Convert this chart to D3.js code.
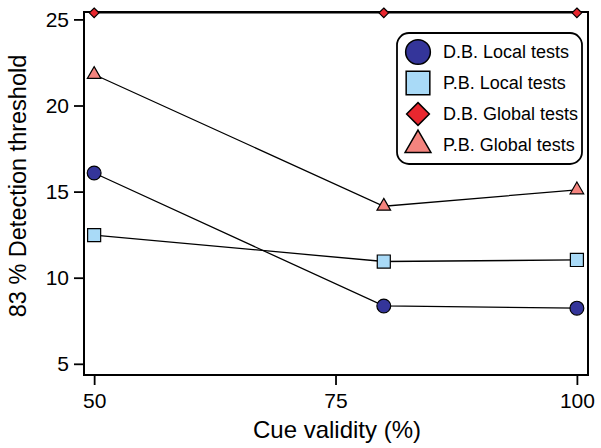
<!DOCTYPE html>
<html>
<head>
<meta charset="utf-8">
<script src="https://cdn.jsdelivr.net/npm/d3@7"></script>
<style>
  body { margin: 0; background: #fff; }
  text { font-family: "Liberation Sans", Arial, sans-serif; }
</style>
</head>
<body>
<svg id="chart" width="601" height="448"></svg>
<script>
// data
var cueValidity = [50, 80, 100];
var dbLocal  = [16.08, 8.36, 8.23];
var pbLocal  = [12.47, 10.94, 11.03];
var dbGlobal = [25.38, 25.38, 25.38];
var pbGlobal = [21.8, 14.15, 15.1];
var xTicks = [50, 75, 100];
var yTicks = [5, 10, 15, 20, 25];

var seriesNames = ["D.B. Local tests", "P.B. Local tests", "D.B. Global tests", "P.B. Global tests"];
var seriesValues = [dbLocal, pbLocal, dbGlobal, pbGlobal];
var seriesShapes = [d3.symbolCircle, d3.symbolSquare, d3.symbolDiamond2, d3.symbolTriangle];
var seriesColors = ["#34359a", "#a9daf7", "#e8272f", "#f4847e"];

var svg = d3.select("#chart");
// plot box edges (not called "top": that name is taken by window.top)
var pLeft = 84, pRight = 588, pTop = 12, pBottom = 375;

var x = d3.scaleLinear().domain([48.95, 101.15]).range([pLeft, pRight]);
var y = d3.scaleLinear().domain([4.35, 25.43]).range([pBottom, pTop]);

// plot frame
svg.append("rect")
  .attr("x", pLeft).attr("y", pTop)
  .attr("width", pRight - pLeft).attr("height", pBottom - pTop)
  .attr("fill", "none").attr("stroke", "#000").attr("stroke-width", 2);

// axes
var yAxis = svg.append("g")
  .attr("transform", "translate(" + pLeft + ",0)")
  .call(d3.axisLeft(y).tickValues(yTicks).tickSize(10).tickPadding(5));
var xAxis = svg.append("g")
  .attr("transform", "translate(0," + pBottom + ")")
  .call(d3.axisBottom(x).tickValues(xTicks).tickSize(10).tickPadding(8));

[xAxis, yAxis].forEach(function(a) {
  a.select(".domain").remove();
  a.selectAll("line").attr("stroke-width", 1.8);
  a.selectAll("text").attr("font-size", 21).attr("fill", "#000")
    .style("font-family", "Liberation Sans, Arial, sans-serif");
});

// axis titles
svg.append("text")
  .attr("x", 337).attr("y", 438)
  .attr("text-anchor", "middle")
  .attr("font-size", 24)
  .text("Cue validity (%)");

svg.append("text")
  .attr("transform", "translate(26,186) rotate(-90)")
  .attr("text-anchor", "middle")
  .attr("font-size", 23.5)
  .text("83 % Detection threshold");

// lines
var line = d3.line()
  .x(function(d, i) { return x(cueValidity[i]); })
  .y(function(d) { return y(d); });

var markerSizes = [150, 170, 60, 80];

for (var s = 0; s < seriesValues.length; s++) {
  svg.append("path")
    .datum(seriesValues[s])
    .attr("d", line)
    .attr("fill", "none")
    .attr("stroke", "#000")
    .attr("stroke-width", 1.3);
}

for (var s = 0; s < seriesValues.length; s++) {
  svg.append("g").selectAll("path")
    .data(seriesValues[s])
    .enter().append("path")
      .attr("transform", function(d, i) { return "translate(" + x(cueValidity[i]) + "," + y(d) + ")"; })
      .attr("d", d3.symbol().type(seriesShapes[s]).size(markerSizes[s]))
      .attr("fill", seriesColors[s])
      .attr("stroke", "#000")
      .attr("stroke-width", 1.2);
}

// legend
var legend = svg.append("g").attr("transform", "translate(397,33)");
legend.append("rect")
  .attr("width", 185).attr("height", 131)
  .attr("rx", 12).attr("ry", 12)
  .attr("fill", "#fff").attr("stroke", "#000").attr("stroke-width", 1.8);

var legendSizes = [480, 560, 330, 290];
for (var s = 0; s < seriesNames.length; s++) {
  var ly = 19 + s * 31;
  legend.append("path")
    .attr("transform", "translate(21," + ly + ")")
    .attr("d", d3.symbol().type(seriesShapes[s]).size(legendSizes[s]))
    .attr("fill", seriesColors[s])
    .attr("stroke", "#000")
    .attr("stroke-width", 1.5);
  legend.append("text")
    .attr("x", 46).attr("y", ly + 6)
    .attr("font-size", 18)
    .text(seriesNames[s]);
}
</script>
</body>
</html>
